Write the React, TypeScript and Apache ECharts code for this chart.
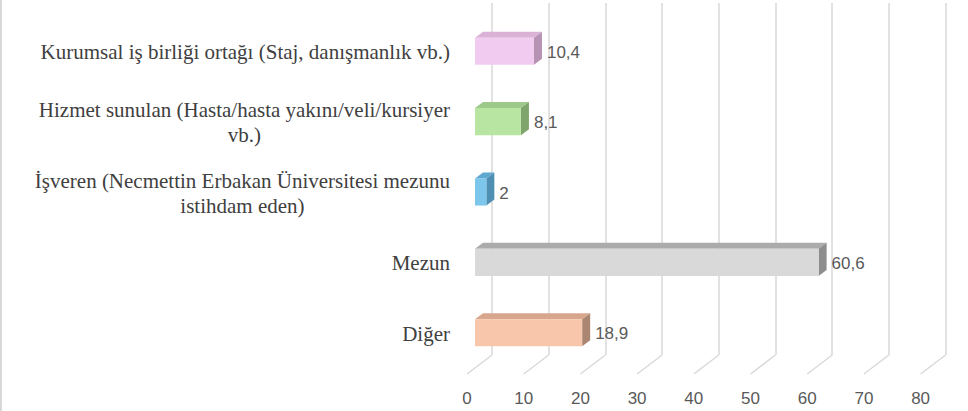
import React, { useEffect, useRef } from "react";
import * as echarts from "echarts";

const categories = [
  "Kurumsal iş birliği ortağı (Staj, danışmanlık vb.)",
  "Hizmet sunulan (Hasta/hasta yakını/veli/kursiyer\nvb.)",
  "İşveren (Necmettin Erbakan Üniversitesi mezunu\nistihdam eden)",
  "Mezun",
  "Diğer",
];
const values = [10.4, 8.1, 2, 60.6, 18.9];
const ticks = [0, 10, 20, 30, 40, 50, 60, 70, 80];
const faceColors = ["#F2CBF0", "#B9E5A3", "#7DC6EC", "#D9D9D9", "#F8C6AA"];
const topColors = ["#DBB2D7", "#9FC98A", "#5FA9D1", "#ABABAB", "#D7A68C"];
const sideColors = ["#B793B3", "#7FA46C", "#4F8FB3", "#8E8E8E", "#AA8672"];

const DX = 8;
const DY = -6;

export default function App() {
  const ref = useRef<HTMLDivElement>(null);
  useEffect(() => {
    document.body.style.margin = "0";
    const chart = echarts.init(ref.current!, null, { renderer: "svg" });
    const W = 453.6;
    const option: any = {
      animation: false,
      backgroundColor: "#ffffff",
      grid: [
        { left: 475, top: 16, width: W, height: 352 },
        { left: 492, top: 3, width: W, height: 352 },
        { left: 467, top: 22, width: W, height: 352 },
      ],
      xAxis: [
        { gridIndex: 0, type: "value", min: 0, max: 80, interval: 10, show: false },
        {
          gridIndex: 1, type: "value", min: 0, max: 80, interval: 10,
          axisLine: { show: false }, axisTick: { show: false }, axisLabel: { show: false },
          splitLine: { show: true, lineStyle: { color: "#D9D9D9", width: 1.5 } },
        },
        {
          gridIndex: 2, type: "value", min: 0, max: 80, interval: 10,
          axisLine: { show: false }, axisTick: { show: false }, splitLine: { show: false },
          axisLabel: {
            show: true, margin: 16, color: "#595959", fontSize: 17,
            fontFamily: "Liberation Sans",
          },
        },
      ],
      yAxis: [
        {
          gridIndex: 0, type: "category", data: categories, inverse: true,
          axisLine: { show: false }, axisTick: { show: false }, splitLine: { show: false },
          axisLabel: {
            show: true, margin: 25, align: "right", interval: 0,
            formatter: (v: string) =>
              v.split("\n").map((l) => `{c|${l}}`).join("\n"),
            rich: {
              c: {
                align: "center", fontFamily: "Liberation Serif", fontSize: 21,
                lineHeight: 25, color: "#404040", padding: [2, 0, 0, 0],
              },
            },
          },
        },
        { gridIndex: 1, type: "value", min: 0, max: 1, show: false },
        { gridIndex: 2, type: "value", min: 0, max: 1, show: false },
      ],
      graphic: [
        { type: "rect", shape: { x: 0, y: 0, width: 2, height: 411 }, style: { fill: "#D9D9D9" } },
      ],
      series: [
        {
          type: "custom",
          xAxisIndex: 2, yAxisIndex: 2,
          data: ticks.map((t) => [t, 0]),
          renderItem: (params: any, api: any) => {
            const p = api.coord([api.value(0), 0]);
            return {
              type: "line",
              shape: { x1: p[0], y1: p[1], x2: p[0] + 25, y2: p[1] - 19 },
              style: { stroke: "#D9D9D9", lineWidth: 1.5 },
            };
          },
        },
        {
          type: "custom",
          xAxisIndex: 0, yAxisIndex: 0,
          data: values.map((v, i) => [v, i]),
          renderItem: (params: any, api: any) => {
            const i = api.value(1);
            const v = api.value(0);
            const p0 = api.coord([0, i]);
            const p1 = api.coord([v, i]);
            const band = api.size([0, 1])[1];
            const h = band * 0.385;
            const x0 = p0[0];
            const x1 = p1[0];
            const yt = p0[1] - h / 2;
            return {
              type: "group",
              children: [
                {
                  type: "polygon",
                  shape: { points: [[x0, yt], [x0 + DX, yt + DY], [x1 + DX, yt + DY], [x1, yt]] },
                  style: { fill: topColors[i] },
                },
                {
                  type: "polygon",
                  shape: { points: [[x1, yt], [x1 + DX, yt + DY], [x1 + DX, yt + DY + h], [x1, yt + h]] },
                  style: { fill: sideColors[i] },
                },
                {
                  type: "rect",
                  shape: { x: x0, y: yt, width: x1 - x0, height: h },
                  style: { fill: faceColors[i] },
                },
                {
                  type: "text",
                  style: {
                    x: x1 + DX + 5, y: p0[1] + 1,
                    text: String(v).replace(".", ","),
                    fill: "#595959", fontSize: 17, fontFamily: "Liberation Sans",
                    verticalAlign: "middle", align: "left",
                  },
                },
              ],
            };
          },
        },
      ],
    };
    chart.setOption(option);
    return () => chart.dispose();
  }, []);
  return <div ref={ref} style={{ width: 968, height: 411, position: "fixed", left: 0, top: 0 }} />;
}
